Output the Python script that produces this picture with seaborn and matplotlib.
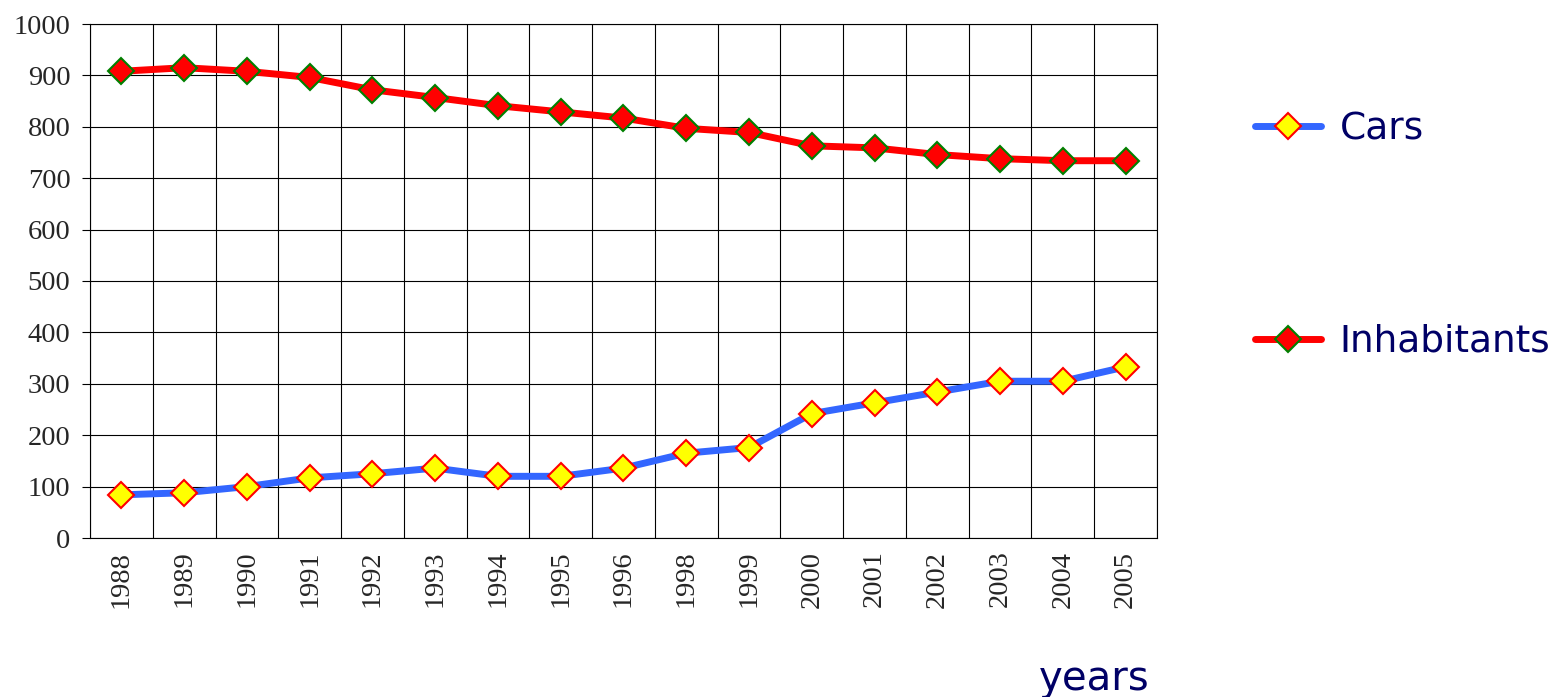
import numpy as np
import pandas as pd
import seaborn as sns
import matplotlib.pyplot as plt

### Datos
years = ["1988", "1989", "1990", "1991", "1992", "1993", "1994", "1995", "1996",
         "1998", "1999", "2000", "2001", "2002", "2003", "2004", "2005"]
cars = [84, 88, 100, 117, 125, 136, 120, 120, 136, 165, 176, 242, 263, 284, 305, 305, 333]
inhabitants = [908, 915, 908, 896, 872, 857, 841, 829, 817, 797, 789, 763, 759, 746, 738, 734, 734]

df = pd.DataFrame({"year": years, "Cars": cars, "Inhabitants": inhabitants})

sns.set_style("white")
plt.rcParams["font.family"] = ["Liberation Serif", "DejaVu Serif"]

fig = plt.figure(figsize=(15.57, 6.97), dpi=100)
ax = fig.add_axes([90 / 1557, 1 - 538 / 697, 1067 / 1557, 514 / 697])

### Series
sns.lineplot(data=df, x="year", y="Cars", ax=ax, sort=False, color="#3366ff", lw=5,
             marker="D", ms=13.5, mfc="#ffff00", mec="#ff0000", mew=1.5, label="Cars")
sns.lineplot(data=df, x="year", y="Inhabitants", ax=ax, sort=False, color="#ff0000", lw=5,
             marker="D", ms=13.5, mfc="#ff0000", mec="#008000", mew=1.5, label="Inhabitants")

### Ejes
n = len(years)
ax.set_xlim(-0.5, n - 0.5)
ax.set_ylim(0, 1000)
ax.set_yticks(np.arange(0, 1001, 100))
ax.set_xticks(np.arange(n))
ax.set_xticklabels(years, rotation=90)
ax.set_xticks(np.arange(-0.5, n, 1), minor=True)
ax.tick_params(axis="x", which="major", length=0, pad=9, labelsize=20.5)
ax.tick_params(axis="x", which="minor", length=8, width=0.8, color="black", direction="out")
ax.tick_params(axis="y", which="major", length=6, width=0.8, color="black", pad=8,
               labelsize=20.5, left=True)
for lab in ax.get_xticklabels() + ax.get_yticklabels():
    lab.set_family("Liberation Serif")
ax.grid(which="minor", axis="x", color="black", lw=0.8)
ax.grid(which="major", axis="y", color="black", lw=0.8)
ax.grid(which="major", axis="x", visible=False)
for s in ax.spines.values():
    s.set_color("black")
    s.set_linewidth(0.8)
ax.set_xlabel("")
ax.set_ylabel("")

### Leyenda y etiqueta
handles, labels = ax.get_legend_handles_labels()
ax.get_legend().remove()
fig.legend(handles, labels, loc="upper left", bbox_to_anchor=(1240 / 1557, 1 - 96 / 697),
           frameon=False, labelcolor="#000066", handlelength=1.75,
           handletextpad=0.5, labelspacing=4.72, borderaxespad=0,
           prop={"family": "DejaVu Sans", "size": 27})

fig.text(1150 / 1557, 1 - 690 / 697, "years", ha="right", va="baseline",
         fontsize=29, color="#000066", family="DejaVu Sans")

fig.savefig("out.png", dpi=100)
